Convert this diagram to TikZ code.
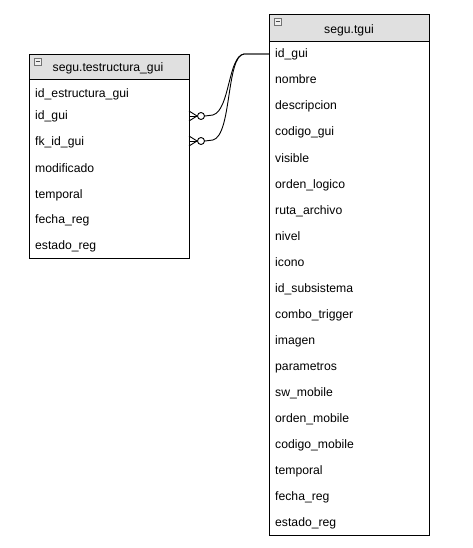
\documentclass[tikz,border=0pt]{standalone}
\usepackage{fontspec}
\setmainfont{Liberation Sans}
\begin{document}
\begin{tikzpicture}[x=1pt,y=-1pt,
  tbox/.style={draw=black,line width=1pt,fill=white},
  thead/.style={draw=black,line width=1pt,fill=black!12},
  ttitle/.style={font=\fontsize{12.2}{14}\selectfont,inner sep=0pt,anchor=center,text height=9pt,text depth=3pt},
  frow/.style={font=\fontsize{12.2}{14}\selectfont,inner sep=0pt,anchor=west,text height=9pt,text depth=3pt},
  conn/.style={draw=black,line width=0.9pt},
  icon/.style={draw=black!55,fill=black!6,line width=0.6pt}]
\useasboundingbox[fill=white] (0,0) rectangle (472,548);

% ---------- left table ----------
\draw[tbox] (29,55) rectangle (189,258);
\draw[thead] (29,55) rectangle (189,80);
\draw[icon] (34,58) rectangle (41,65);
\draw[black!70,line width=0.7pt] (35.5,61.5) -- (39.5,61.5);
\node[ttitle] (lt) at (108,69) {segu.testructura\_gui};
\node[frow] (l1) at (35,95) {id\_estructura\_gui};
\node[frow] (l2) at (35,117) {id\_gui};
\node[frow] (l3) at (35,143) {fk\_id\_gui};
\node[frow] (l4) at (35,169) {modificado};
\node[frow] (l5) at (35,195) {temporal};
\node[frow] (l6) at (35,220) {fecha\_reg};
\node[frow] (l7) at (35,246) {estado\_reg};

% ---------- right table ----------
\draw[tbox] (269,15) rectangle (429,535);
\draw[thead] (269,15) rectangle (429,42);
\draw[icon] (274,18) rectangle (281,25);
\draw[black!70,line width=0.7pt] (275.5,21.5) -- (279.5,21.5);
\node[ttitle] (rt) at (349,30.5) {segu.tgui};
\foreach \t [count=\i] in {id\_gui,nombre,descripcion,codigo\_gui,visible,orden\_logico,ruta\_archivo,nivel,icono,id\_subsistema,combo\_trigger,imagen,parametros,sw\_mobile,orden\_mobile,codigo\_mobile,temporal,fecha\_reg,estado\_reg}
  \node[frow] (r\i) at (275,{55+26*(\i-1)}) {\t};

% ---------- connectors ----------
\coordinate (a1) at (189,116);
\coordinate (a2) at (189,141);
\coordinate (b) at (269,54);
\foreach \a in {a1,a2}{
  \draw[conn] ([yshift=-5pt]\a) -- ([xshift=8pt]\a);
  \draw[conn] (\a) -- ([xshift=8pt]\a);
  \draw[conn] ([yshift=5pt]\a) -- ([xshift=8pt]\a);
  \node[draw=black,line width=0.9pt,fill=white,circle,minimum size=7pt,inner sep=0pt] (c\a) at ([xshift=12pt]\a) {};
}
\draw[conn] (ca1.east) -- ++(8,-1) .. controls (230,110) and (228,56) .. (244,54) -- (b);
\draw[conn] (ca2.east) -- ++(8,-1) .. controls (232,135) and (226,56) .. (244,54) -- (b);
\end{tikzpicture}
\end{document}
